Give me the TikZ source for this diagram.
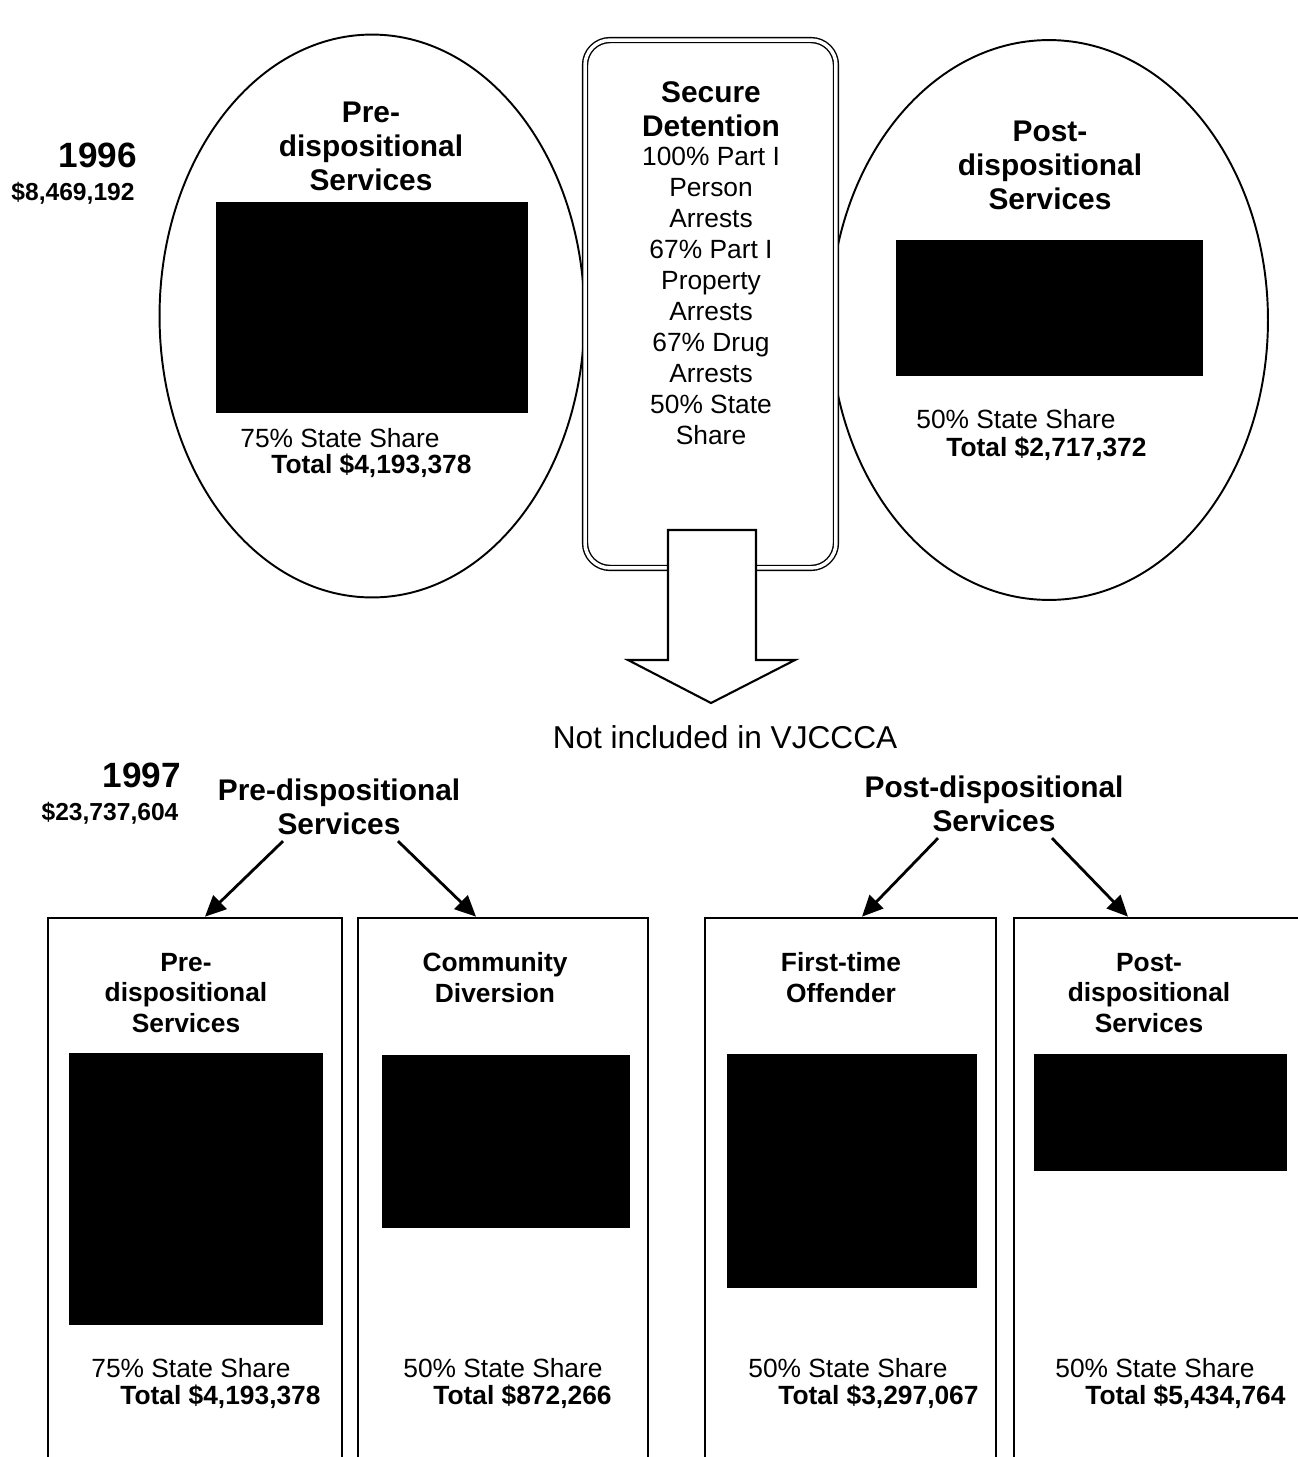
\documentclass[tikz,border=0pt]{standalone}
\usepackage{fontspec}
\setmainfont{Liberation Sans}
\usepackage{xcolor}
\usepackage{tikz}
\usetikzlibrary{shapes.geometric, arrows.meta, positioning, calc}

\begin{document}
\begin{tikzpicture}[x=0.02cm, y=-0.02cm,
  oval/.style={ellipse, draw, line width=1.1pt},
  title/.style={font=\bfseries\fontsize{17}{19.3}\selectfont, align=center},
  boxtitle/.style={font=\bfseries\fontsize{15}{17.6}\selectfont, align=center},
  body/.style={font=\fontsize{15}{17.6}\selectfont, align=center},
  share/.style={font=\fontsize{15}{17.6}\selectfont, anchor=west, inner sep=0pt},
  total/.style={font=\bfseries\fontsize{15}{17.6}\selectfont, anchor=west, inner sep=0pt},
  year/.style={font=\bfseries\fontsize{20}{24}\selectfont},
  budget/.style={font=\bfseries\fontsize{14}{17}\selectfont},
  column/.style={rectangle, draw, line width=1.6pt},
  mask/.style={fill=black},
  arrow/.style={-{Triangle[length=0.42cm, width=0.38cm]}, line width=1.6pt}
]
  \clip (0,0) rectangle (1298,1457);

  \node[oval, minimum width=8.5cm, minimum height=11.26cm] (preOval) at (372,316) {};
  \node[oval, minimum width=8.76cm, minimum height=11.2cm] (postOval) at (1049,320) {};
  \node[rectangle, draw, fill=white, line width=0.8pt, double, double distance=2pt,
        rounded corners=0.5cm, minimum width=5.02cm, minimum height=10.56cm] (secure) at (710.5,304) {};

  \node[year] (y96) at (98,155) {1996};
  \node[budget] (b96) at (73,193) {\$8,469,192};

  \node[title] (preTitle) at (371,146) {Pre-\\dispositional\\Services};
  \fill[mask] (216,202) rectangle (528,413);
  \node[share] (preShare) at (240,438) {75\% State Share};
  \node[total] (preTotal) at (271,466) {Total \$4,193,378};

  \node[title] (secTitle) at (711,109) {Secure\\Detention};
  \node[body] (secText) at (711,296) {100\% Part I\\Person\\Arrests\\67\% Part I\\Property\\Arrests\\67\% Drug\\Arrests\\50\% State\\Share};

  \node[title] (postTitle) at (1050,165) {Post-\\dispositional\\Services};
  \fill[mask] (896,240) rectangle (1203,376);
  \node[share] (postShare) at (916,419) {50\% State Share};
  \node[total] (postTotal) at (946,449) {Total \$2,717,372};

  \draw[fill=white, line width=1.2pt] (668,530) -- (756,530) -- (756,660) -- (795,660)
    -- (711,703) -- (628,660) -- (668,660) -- cycle;
  \node[font=\fontsize{18}{21}\selectfont] (excluded) at (725,737) {Not included in VJCCCA};

  \node[year] (y97) at (142,775) {1997};
  \node[budget] (b97) at (110,813) {\$23,737,604};
  \node[title] (preHead) at (339,807) {Pre-dispositional\\Services};
  \node[title] (postHead) at (994,804) {Post-dispositional\\Services};

  \node[column, minimum width=5.88cm, minimum height=11.24cm] (c1) at (195,1199) {};
  \node[column, minimum width=5.8cm, minimum height=11.24cm] (c2) at (503,1199) {};
  \node[column, minimum width=5.82cm, minimum height=11.24cm] (c3) at (850.5,1199) {};
  \node[column, minimum width=5.92cm, minimum height=11.24cm] (c4) at (1162,1199) {};

  \draw[arrow] ([xshift=-1.12cm]preHead.south) -- ([xshift=0.2cm]c1.north);
  \draw[arrow] ([xshift=1.18cm]preHead.south) -- ([xshift=-0.54cm]c2.north);
  \draw[arrow] ([xshift=-1.12cm]postHead.south) -- ([xshift=0.23cm]c3.north);
  \draw[arrow] ([xshift=1.16cm]postHead.south) -- ([xshift=-0.68cm]c4.north);

  \node[boxtitle] (t1) at (186,993) {Pre-\\dispositional\\Services};
  \node[boxtitle] (t2) at (495,978) {Community\\Diversion};
  \node[boxtitle] (t3) at (841,978) {First-time\\Offender};
  \node[boxtitle] (t4) at (1149,993) {Post-\\dispositional\\Services};

  \fill[mask] (69,1053) rectangle (323,1325);
  \fill[mask] (382,1055) rectangle (630,1228);
  \fill[mask] (727,1054) rectangle (977,1288);
  \fill[mask] (1034,1054) rectangle (1287,1171);

  \node[share] (s1) at (91,1368) {75\% State Share};
  \node[total] (v1) at (120,1397) {Total \$4,193,378};
  \node[share] (s2) at (403,1368) {50\% State Share};
  \node[total] (v2) at (433,1397) {Total \$872,266};
  \node[share] (s3) at (748,1368) {50\% State Share};
  \node[total] (v3) at (778,1397) {Total \$3,297,067};
  \node[share] (s4) at (1055,1368) {50\% State Share};
  \node[total] (v4) at (1085,1397) {Total \$5,434,764};
\end{tikzpicture}
\end{document}
